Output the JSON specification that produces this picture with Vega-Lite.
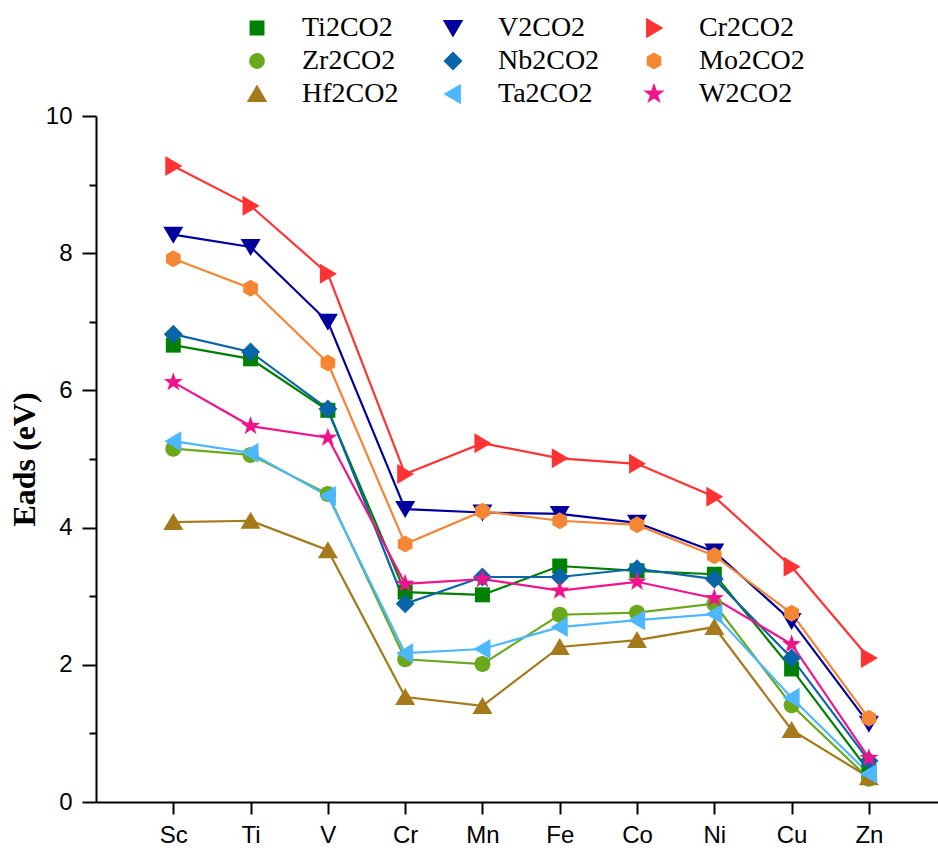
{
  "$schema": "https://vega.github.io/schema/vega-lite/v6.json",
  "width": 842,
  "height": 686,
  "autosize": {"type": "none"},
  "padding": {"left": 96, "top": 116, "right": 0, "bottom": 49},
  "background": "white",
  "config": {"view": {"stroke": null}, "legend": {"labelFont": "Liberation Serif", "labelFontSize": 28, "labelColor": "black"}},
  "data": {"values": [
    {"m":"Sc","s":"Ti2CO2","v":6.66},{"m":"Ti","s":"Ti2CO2","v":6.46},{"m":"V","s":"Ti2CO2","v":5.71},{"m":"Cr","s":"Ti2CO2","v":3.06},{"m":"Mn","s":"Ti2CO2","v":3.02},{"m":"Fe","s":"Ti2CO2","v":3.44},{"m":"Co","s":"Ti2CO2","v":3.37},{"m":"Ni","s":"Ti2CO2","v":3.32},{"m":"Cu","s":"Ti2CO2","v":1.94},{"m":"Zn","s":"Ti2CO2","v":0.45},
    {"m":"Sc","s":"Zr2CO2","v":5.15},{"m":"Ti","s":"Zr2CO2","v":5.06},{"m":"V","s":"Zr2CO2","v":4.49},{"m":"Cr","s":"Zr2CO2","v":2.08},{"m":"Mn","s":"Zr2CO2","v":2.01},{"m":"Fe","s":"Zr2CO2","v":2.73},{"m":"Co","s":"Zr2CO2","v":2.76},{"m":"Ni","s":"Zr2CO2","v":2.89},{"m":"Cu","s":"Zr2CO2","v":1.41},{"m":"Zn","s":"Zr2CO2","v":0.34},
    {"m":"Sc","s":"Hf2CO2","v":4.08},{"m":"Ti","s":"Hf2CO2","v":4.1},{"m":"V","s":"Hf2CO2","v":3.67},{"m":"Cr","s":"Hf2CO2","v":1.53},{"m":"Mn","s":"Hf2CO2","v":1.4},{"m":"Fe","s":"Hf2CO2","v":2.26},{"m":"Co","s":"Hf2CO2","v":2.36},{"m":"Ni","s":"Hf2CO2","v":2.55},{"m":"Cu","s":"Hf2CO2","v":1.05},{"m":"Zn","s":"Hf2CO2","v":0.36},
    {"m":"Sc","s":"V2CO2","v":8.27},{"m":"Ti","s":"V2CO2","v":8.09},{"m":"V","s":"V2CO2","v":7.0},{"m":"Cr","s":"V2CO2","v":4.27},{"m":"Mn","s":"V2CO2","v":4.22},{"m":"Fe","s":"V2CO2","v":4.2},{"m":"Co","s":"V2CO2","v":4.07},{"m":"Ni","s":"V2CO2","v":3.65},{"m":"Cu","s":"V2CO2","v":2.64},{"m":"Zn","s":"V2CO2","v":1.14},
    {"m":"Sc","s":"Nb2CO2","v":6.82},{"m":"Ti","s":"Nb2CO2","v":6.56},{"m":"V","s":"Nb2CO2","v":5.73},{"m":"Cr","s":"Nb2CO2","v":2.89},{"m":"Mn","s":"Nb2CO2","v":3.28},{"m":"Fe","s":"Nb2CO2","v":3.28},{"m":"Co","s":"Nb2CO2","v":3.4},{"m":"Ni","s":"Nb2CO2","v":3.25},{"m":"Cu","s":"Nb2CO2","v":2.1},{"m":"Zn","s":"Nb2CO2","v":0.6},
    {"m":"Sc","s":"Ta2CO2","v":5.26},{"m":"Ti","s":"Ta2CO2","v":5.09},{"m":"V","s":"Ta2CO2","v":4.46},{"m":"Cr","s":"Ta2CO2","v":2.17},{"m":"Mn","s":"Ta2CO2","v":2.23},{"m":"Fe","s":"Ta2CO2","v":2.55},{"m":"Co","s":"Ta2CO2","v":2.65},{"m":"Ni","s":"Ta2CO2","v":2.74},{"m":"Cu","s":"Ta2CO2","v":1.52},{"m":"Zn","s":"Ta2CO2","v":0.41},
    {"m":"Sc","s":"Cr2CO2","v":9.27},{"m":"Ti","s":"Cr2CO2","v":8.69},{"m":"V","s":"Cr2CO2","v":7.7},{"m":"Cr","s":"Cr2CO2","v":4.78},{"m":"Mn","s":"Cr2CO2","v":5.23},{"m":"Fe","s":"Cr2CO2","v":5.01},{"m":"Co","s":"Cr2CO2","v":4.93},{"m":"Ni","s":"Cr2CO2","v":4.45},{"m":"Cu","s":"Cr2CO2","v":3.43},{"m":"Zn","s":"Cr2CO2","v":2.1},
    {"m":"Sc","s":"Mo2CO2","v":7.92},{"m":"Ti","s":"Mo2CO2","v":7.49},{"m":"V","s":"Mo2CO2","v":6.4},{"m":"Cr","s":"Mo2CO2","v":3.76},{"m":"Mn","s":"Mo2CO2","v":4.24},{"m":"Fe","s":"Mo2CO2","v":4.1},{"m":"Co","s":"Mo2CO2","v":4.04},{"m":"Ni","s":"Mo2CO2","v":3.59},{"m":"Cu","s":"Mo2CO2","v":2.75},{"m":"Zn","s":"Mo2CO2","v":1.22},
    {"m":"Sc","s":"W2CO2","v":6.12},{"m":"Ti","s":"W2CO2","v":5.48},{"m":"V","s":"W2CO2","v":5.31},{"m":"Cr","s":"W2CO2","v":3.18},{"m":"Mn","s":"W2CO2","v":3.25},{"m":"Fe","s":"W2CO2","v":3.08},{"m":"Co","s":"W2CO2","v":3.21},{"m":"Ni","s":"W2CO2","v":2.97},{"m":"Cu","s":"W2CO2","v":2.3},{"m":"Zn","s":"W2CO2","v":0.64}
  ]},
  "encoding": {
    "x": {"field": "m", "type": "nominal", "sort": null,
      "scale": {"type": "point", "domain": ["Sc","Ti","V","Cr","Mn","Fe","Co","Ni","Cu","Zn"], "padding": 0.947, "align": 0.528},
      "axis": {"title": null, "labelAngle": 0, "labelFont": "Liberation Sans", "labelFontSize": 24, "labelColor": "black", "labelPadding": 9,
        "tickSize": 12, "tickWidth": 2, "tickColor": "black", "domainColor": "black", "domainWidth": 2, "grid": false}},
    "y": {"field": "v", "type": "quantitative",
      "scale": {"domain": [0, 10], "nice": false},
      "axis": {"title": "Eads (eV)", "titleFont": "Liberation Serif", "titleFontWeight": "bold", "titleFontSize": 32, "titleColor": "black", "titlePadding": 4,
        "values": [0,1,2,3,4,5,6,7,8,9,10], "labelExpr": "datum.value % 2 === 0 ? datum.label : ''",
        "labelFont": "Liberation Sans", "labelFontSize": 24, "labelColor": "black", "labelPadding": 10,
        "tickSize": {"condition": {"test": "datum.value % 2 === 0", "value": 14}, "value": 7},
        "tickWidth": 2, "tickColor": "black", "domainColor": "black", "domainWidth": 2, "grid": false}},
    "color": {"field": "s", "type": "nominal",
      "scale": {"domain": ["Ti2CO2","V2CO2","Cr2CO2","Zr2CO2","Nb2CO2","Mo2CO2","Hf2CO2","Ta2CO2","W2CO2"],
        "range": ["#008000","#00009C","#FF3333","#6AA81C","#0A64A8","#F58634","#A6791A","#4DB8FF","#F0148C"]},
      "legend": {"orient": "none", "legendX": 147, "legendY": -102, "columns": 3, "direction": "horizontal", "title": null,
        "padding": 0, "columnPadding": 40, "rowPadding": 5, "symbolSize": 320, "labelOffset": 31,
        "labelFont": "Liberation Serif", "labelFontSize": 28, "labelColor": "black", "labelLimit": 300}
    }
  },
  "layer": [
    {"mark": {"type": "line", "strokeWidth": 2.2}},
    {"mark": {"type": "point", "filled": true, "opacity": 1, "size": 400},
      "encoding": {
        "shape": {"field": "s", "type": "nominal", "legend": null,
          "scale": {"domain": ["Ti2CO2","V2CO2","Cr2CO2","Zr2CO2","Nb2CO2","Mo2CO2","Hf2CO2","Ta2CO2","W2CO2"],
            "range": ["M-0.75,-0.75H0.75V0.75H-0.75Z",
              "M-1,-0.8H1L0,0.9Z",
              "M-0.8,-1L0.9,0L-0.8,1Z",
              "M0.8,0A0.8,0.8 0 1 1 -0.8,0A0.8,0.8 0 1 1 0.8,0Z",
              "M0,-0.95L0.95,0L0,0.95L-0.95,0Z",
              "M0,-0.85L0.736,-0.425L0.736,0.425L0,0.85L-0.736,0.425L-0.736,-0.425Z",
              "M-1,0.8H1L0,-0.9Z",
              "M0.8,-1L-0.9,0L0.8,1Z",
              "M0,-1L0.235,-0.324L0.951,-0.309L0.38,0.124L0.588,0.809L0,0.4L-0.588,0.809L-0.38,0.124L-0.951,-0.309L-0.235,-0.324Z"]}}
      }
    }
  ]
}
